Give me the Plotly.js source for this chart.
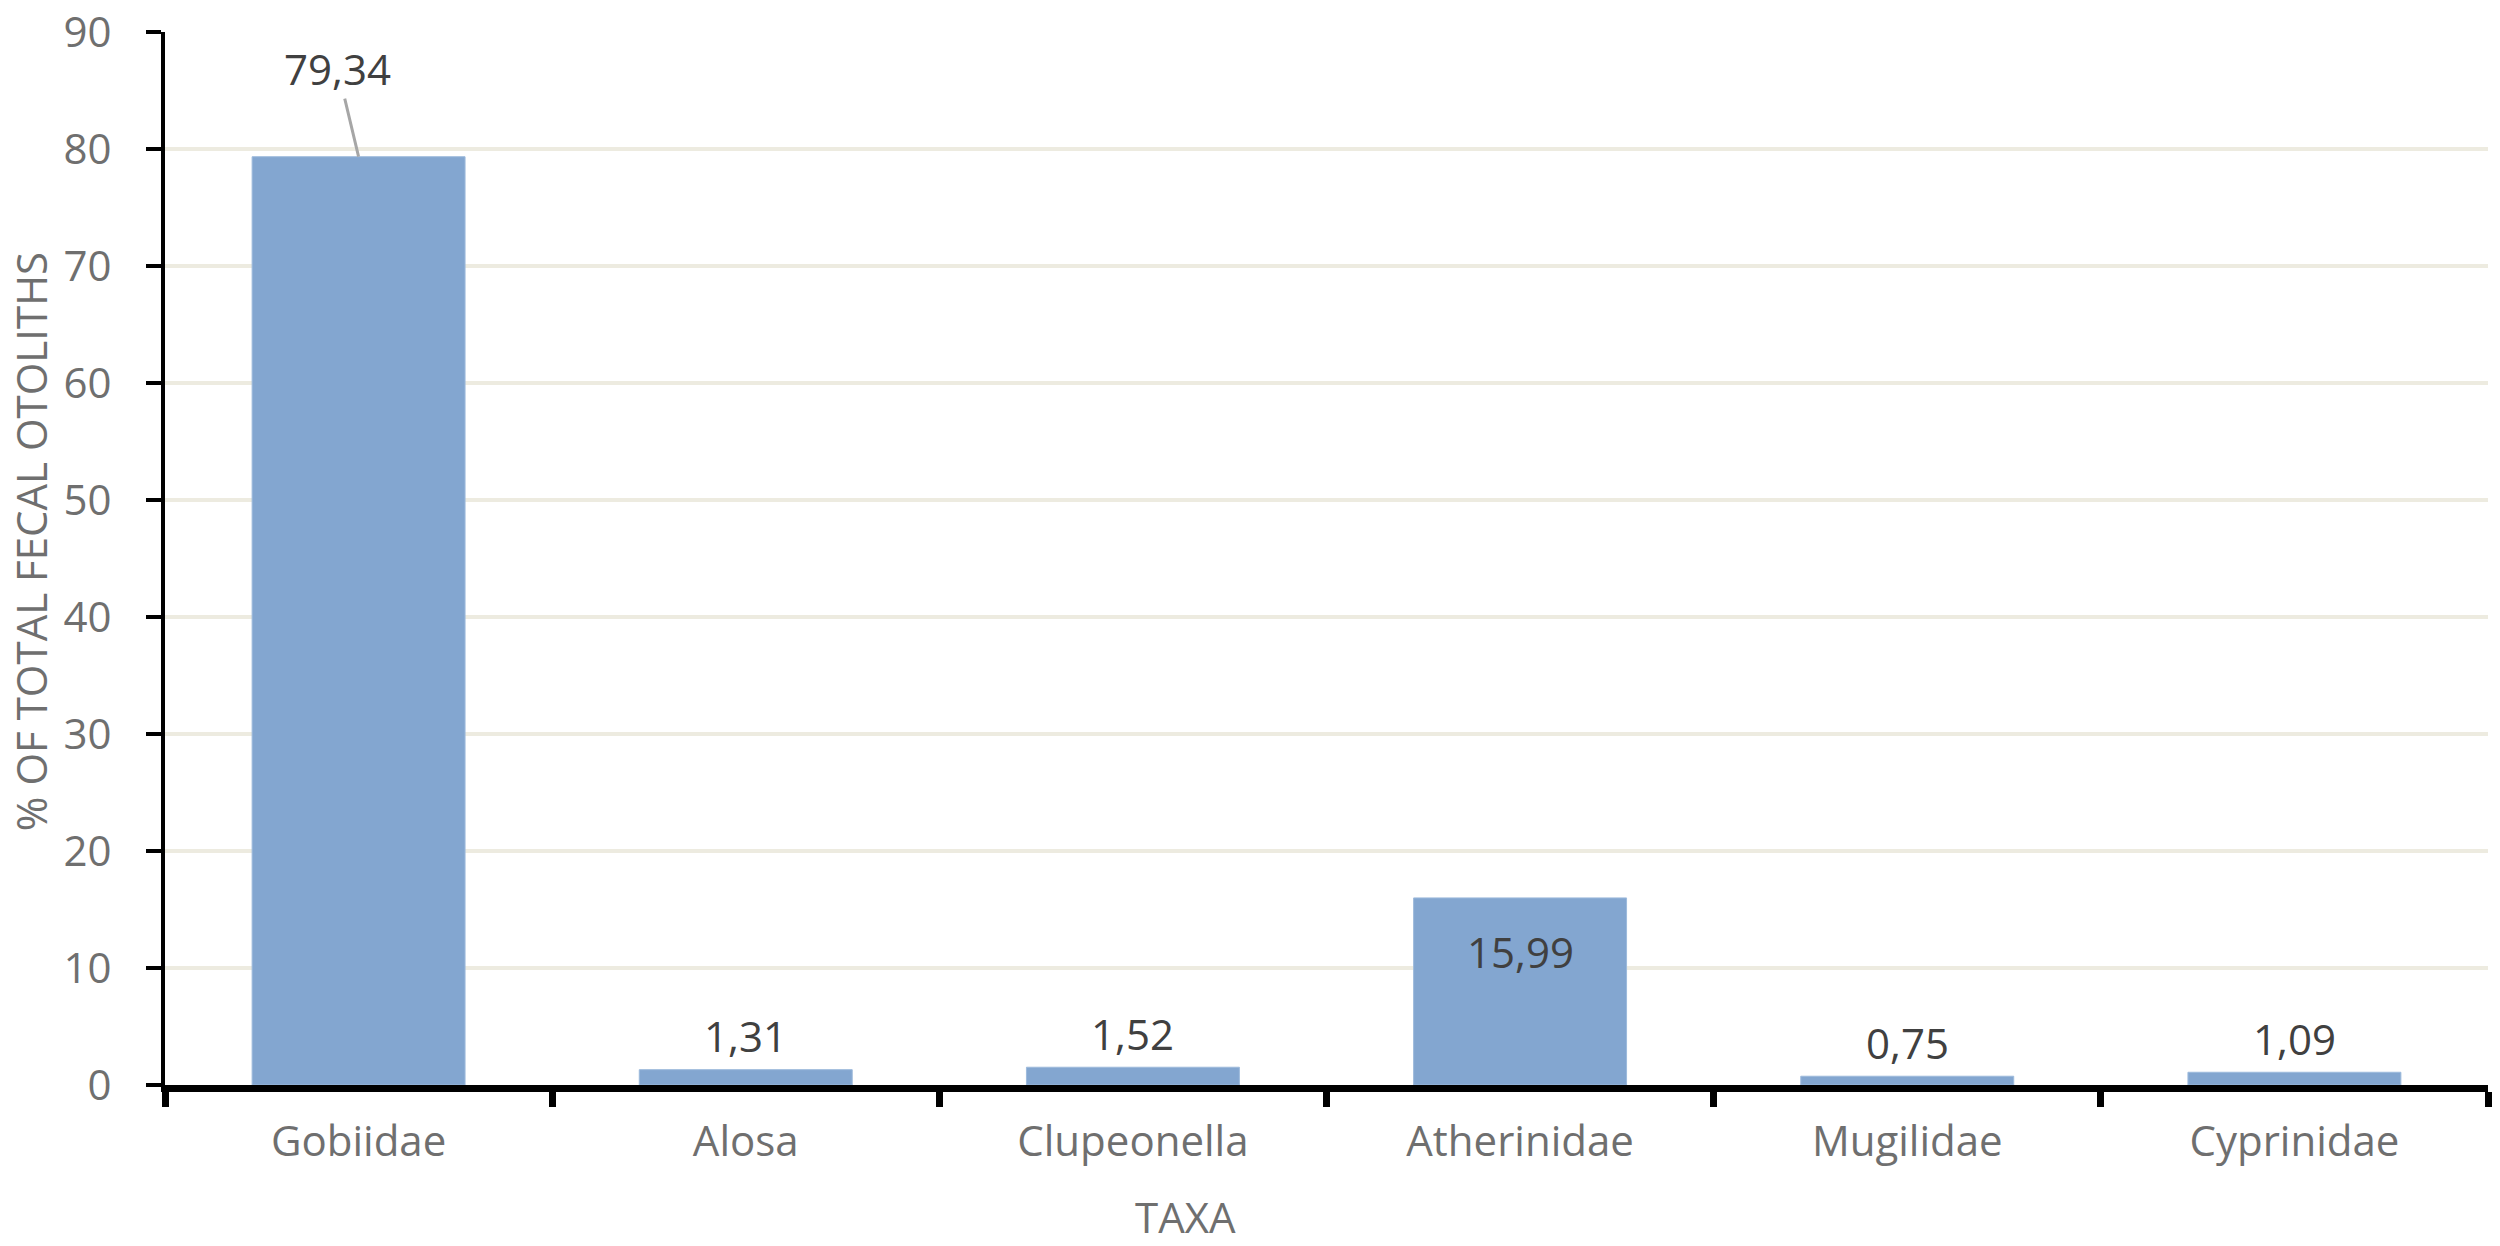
<!DOCTYPE html>
<html>
<head>
<meta charset="utf-8">
<script src="https://cdn.plot.ly/plotly-3.0.1.min.js"></script>
<style>
  html, body { margin: 0; padding: 0; background: #fff; }
  #chart { width: 2500px; height: 1246px; }
</style>
</head>
<body>
<div id="chart"></div>
<script>
var taxa = ["Gobiidae", "Alosa", "Clupeonella", "Atherinidae", "Mugilidae", "Cyprinidae"];
var percents = [79.34, 1.31, 1.52, 15.99, 0.75, 1.09];
// where Excel put each data label
var labelPlace = ["callout", "above", "above", "inside", "above", "above"];
var yTicks = [0, 10, 20, 30, 40, 50, 60, 70, 80, 90];

var fontFamily = "'Open Sans', Lato, sans-serif";
var gray = "#6f6f6f";

function fmt(v) {
    return v.toFixed(2).replace(".", ",");
}

var labels = [];
for (var i = 0; i < taxa.length; i++) {
    var a = {
        x: taxa[i],
        y: percents[i],
        xref: "x",
        yref: "y",
        text: fmt(percents[i]),
        font: {family: fontFamily, size: 42, color: "#404040"},
        showarrow: false,
        yanchor: "middle"
    };
    if (labelPlace[i] === "above") {
        a.yshift = 34;
    } else if (labelPlace[i] === "inside") {
        a.yshift = -54;
    } else {
        a.showarrow = true;
        a.arrowhead = 0;
        a.arrowwidth = 3;
        a.arrowcolor = "#a6a6a6";
        a.ax = -21;
        a.ay = -88;
        a.standoff = 0;
    }
    labels.push(a);
}

// axis titles, placed like the original
labels.push({
    xref: "paper", yref: "paper", x: 0, y: 0.5155,
    xshift: -135, xanchor: "center", yanchor: "middle",
    textangle: -90, showarrow: false,
    text: "% OF TOTAL FECAL OTOLITHS",
    font: {family: fontFamily, size: 42, color: gray}
});
labels.push({
    xref: "paper", yref: "paper", x: 0.4395, y: 0,
    yshift: -131, xanchor: "center", yanchor: "middle",
    showarrow: false,
    text: "TAXA",
    font: {family: fontFamily, size: 42, color: gray}
});

var boundaries = [];
for (var j = 0; j <= taxa.length; j++) boundaries.push(j - 0.5);

var data = [{
    type: "bar",
    x: taxa,
    y: percents,
    marker: {color: "#83a6d0", line: {color: "#9dbadc", width: 1}},
    hoverinfo: "x+y"
}];

var layout = {
    width: 2500,
    height: 1246,
    margin: {l: 165, r: 12, t: 32, b: 161},
    paper_bgcolor: "#fff",
    plot_bgcolor: "#fff",
    bargap: 0.45,
    showlegend: false,
    font: {family: fontFamily, size: 42, color: gray},
    xaxis: {
        type: "category",
        tickson: "boundaries",
        ticks: "outside",
        ticklen: 15,
        tickwidth: 7,
        tickcolor: "#000",
        showline: true,
        linecolor: "#000",
        linewidth: 7,
        showgrid: false,
        zeroline: false,
        tickfont: {family: fontFamily, size: 42, color: gray},
        ticklabelstandoff: 14
    },
    xaxis2: {
        overlaying: "x",
        anchor: "y",
        side: "bottom",
        range: [-0.5, taxa.length - 0.5],
        tickmode: "array",
        tickvals: boundaries,
        ticks: "inside",
        ticklen: 15,
        tickwidth: 7,
        tickcolor: "#000",
        showticklabels: false,
        showgrid: false,
        zeroline: false,
        showline: false
    },
    yaxis: {
        range: [0, 90],
        tickmode: "array",
        tickvals: yTicks,
        ticks: "outside",
        ticklen: 15,
        tickwidth: 4,
        tickcolor: "#000",
        showline: true,
        linecolor: "#000",
        linewidth: 4,
        showgrid: true,
        gridcolor: "#edebe0",
        gridwidth: 4,
        zeroline: false,
        tickfont: {family: fontFamily, size: 42, color: gray},
        ticklabelstandoff: 26,
        ticklabeloverflow: "allow"
    },
    yaxis2: {
        overlaying: "y",
        anchor: "x",
        side: "left",
        range: [0, 90],
        tickmode: "array",
        tickvals: yTicks,
        ticks: "inside",
        ticklen: 15,
        tickwidth: 4,
        tickcolor: "#000",
        showticklabels: false,
        showgrid: false,
        zeroline: false,
        showline: false
    },
    annotations: labels
};

var config = {displayModeBar: false, staticPlot: true};

Plotly.newPlot("chart", data, layout, config);
</script>
</body>
</html>
